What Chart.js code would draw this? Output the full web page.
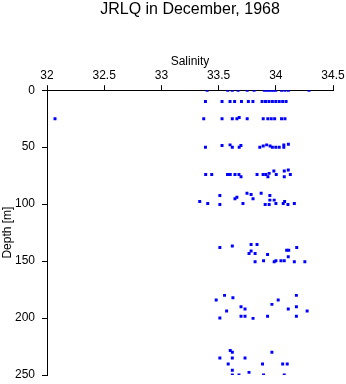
<!DOCTYPE html>
<html>
<head>
<meta charset="utf-8">
<script src="https://cdn.jsdelivr.net/npm/chart.js@4"></script>
<style>
  html, body { margin: 0; padding: 0; background: #fff; }
  #wrap { width: 346px; height: 384px; }
</style>
</head>
<body>
<div id="wrap"><canvas id="ctdChart" width="346" height="384"></canvas></div>
<script>
// salinity / depth pairs, grouped by sampling level
const salinity = [
  // ~0 m
  33.40, 33.58, 33.62, 33.67, 33.75, 33.81, 33.90, 33.92, 33.94, 33.96, 33.98, 34.00, 34.05, 34.08, 34.11, 34.29,
  // ~10 m
  33.385, 33.53, 33.60, 33.64, 33.70, 33.76, 33.80, 33.88, 33.91, 33.94, 33.97, 34.00, 34.03, 34.06, 34.09,
  // ~25 m
  32.07, 33.37, 33.53, 33.62, 33.66, 33.68, 33.75, 33.89, 33.93, 33.96, 33.99, 34.05, 34.08,
  // ~50 m
  33.385, 33.53, 33.60, 33.62, 33.68, 33.695, 33.86, 33.89, 33.92, 33.95, 33.97, 34.00, 34.03, 34.07, 34.07, 34.11,
  // ~75 m
  33.387, 33.44, 33.578, 33.602, 33.643, 33.678, 33.696, 33.836, 33.889, 33.913, 33.931, 33.942, 33.983, 34.004, 34.074, 34.074, 34.109, 34.127,
  // ~95 m
  33.335, 33.405, 33.511, 33.511, 33.643, 33.66, 33.713, 33.748, 33.784, 33.801, 33.872, 33.907, 33.942, 33.948, 33.948, 33.986, 34.001, 34.065, 34.077, 34.106, 34.162,
  // ~145 m
  33.511, 33.62, 33.784, 33.836, 33.784, 33.766, 33.819, 33.928, 33.819, 33.893, 33.986, 34.001, 34.045, 34.074, 34.095, 34.113, 34.109, 34.183, 34.162, 34.254,
  // ~190 m
  33.479, 33.552, 33.625, 33.57, 33.511, 33.696, 33.731, 33.696, 33.731, 33.801, 33.928, 33.966, 34.021, 34.109, 34.18, 34.18, 34.18, 34.274,
  // ~240 m
  33.602, 33.62, 33.511, 33.62, 33.731, 33.584, 33.62, 33.62, 33.678, 33.766, 33.884, 33.893, 33.966, 34.06, 34.10, 34.074
];
const depth = [
  0, 0, 0, 0, 0, 0, 0, 0, 0, 0, 0, 0, 0, 0, 0, 0,
  10, 10, 10, 10, 10, 10, 10, 10, 10, 10, 10, 10, 10, 10, 10,
  25, 25, 25, 25, 25, 24, 25, 25, 25, 25, 25, 25, 25,
  50, 48.5, 48, 50, 50, 48.5, 50, 49, 48, 49, 50, 50, 50, 48, 50, 47.5,
  74, 74, 74, 74, 74, 74, 76, 74, 74, 74, 76, 73, 71, 74, 71, 76, 70, 74,
  97.7, 99.4, 92.4, 100.3, 95.3, 93.9, 99.4, 90.4, 91.5, 95.3, 90.4, 100.3, 100.3, 92.4, 96.5, 96.5, 99.4, 99.4, 97.7, 100.3, 99.4,
  138, 136.8, 135.4, 135.4, 141.2, 143.3, 143.3, 144.2, 150.6, 149.7, 150.6, 149.7, 149.7, 149.7, 140.4, 140.4, 146.2, 138, 150.6, 150.6,
  184.2, 180.1, 182.2, 193.9, 200, 190.1, 192.1, 198.5, 198.5, 200.3, 198.5, 188, 184.2, 192.1, 190.1, 180.1, 198.5, 193.9,
  228.4, 230.1, 235.1, 235.1, 235.1, 240.4, 245.9, 250, 250, 247.7, 240.4, 250, 230.1, 240.4, 240.4, 250
];
const salinityTicks = [32, 32.5, 33, 33.5, 34, 34.5];
const depthTicks = [0, 50, 100, 150, 200, 250];

const font = { family: "'Liberation Sans', Arial, Helvetica, sans-serif", size: 12 };
const ctx = document.getElementById('ctdChart').getContext('2d');

new Chart(ctx, {
  type: 'scatter',
  data: {
    datasets: [{
      data: salinity.map((s, i) => ({ x: s, y: depth[i] })),
      backgroundColor: '#0000ff',
      borderWidth: 0,
      pointStyle: 'rect',
      pointRadius: 2.1,
      pointHoverRadius: 2.1
    }]
  },
  options: {
    responsive: false,
    animation: false,
    layout: { padding: { left: 0, right: 13, top: 0, bottom: 9 } },
    plugins: {
      legend: { display: false },
      tooltip: { enabled: false },
      title: {
        display: true,
        text: 'JRLQ in December, 1968',
        color: '#000',
        fullSize: false,
        font: { family: font.family, size: 16, weight: 'normal' },
        padding: { top: 0, bottom: 0 }
      }
    },
    scales: {
      x: {
        type: 'linear',
        position: 'top',
        min: 32,
        max: 34.5,
        afterBuildTicks: s => { s.ticks = salinityTicks.map(v => ({ value: v })); },
        afterFit: s => { s.height = 71; s.paddingLeft = 0; s.paddingRight = 0; },
        ticks: { color: '#000', font: font, padding: 2, maxRotation: 0, callback: v => String(v) },
        grid: { drawOnChartArea: false, drawTicks: true, tickLength: 5, color: '#000' },
        border: { display: true, color: '#000' },
        title: { display: true, text: 'Salinity', color: '#000', font: font, padding: { top: 35, bottom: 0 } }
      },
      y: {
        type: 'linear',
        reverse: true,
        min: 0,
        max: 250,
        afterBuildTicks: s => { s.ticks = depthTicks.map(v => ({ value: v })); },
        afterFit: s => { s.width = 47; s.paddingTop = 0; s.paddingBottom = 0; },
        ticks: { color: '#000', font: font, padding: 7, callback: v => String(v) },
        grid: { drawOnChartArea: false, drawTicks: true, tickLength: 5, color: '#000' },
        border: { display: true, color: '#000' },
        title: { display: true, text: 'Depth [m]', color: '#000', font: font, padding: { top: 0, bottom: 0 } }
      }
    }
  }
});
</script>
</body>
</html>
